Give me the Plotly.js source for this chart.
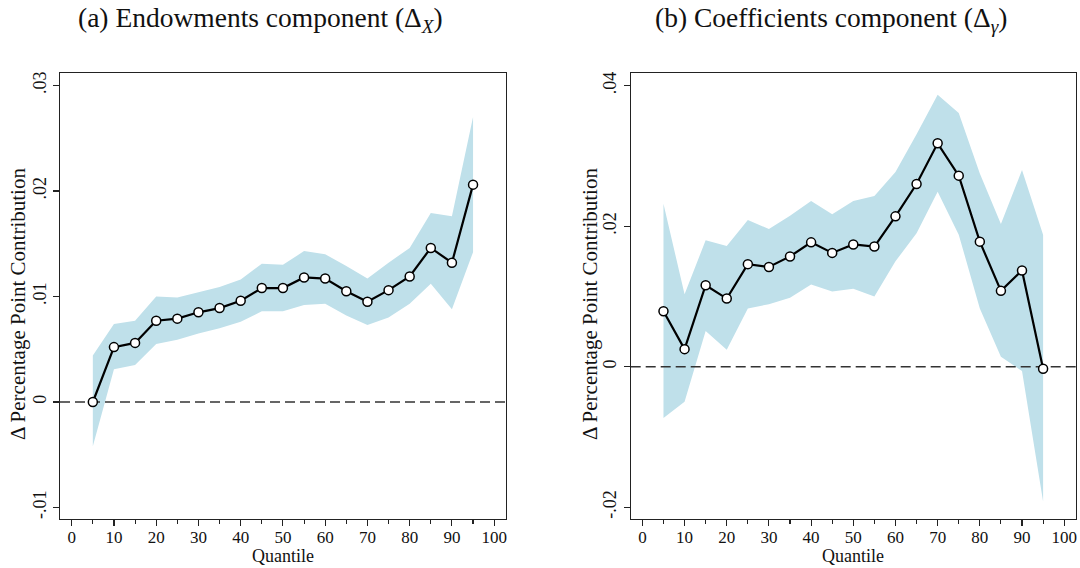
<!DOCTYPE html>
<html>
<head>
<meta charset="utf-8">
<script src="https://cdn.plot.ly/plotly-3.0.1.min.js"></script>
<style>
  html, body { margin: 0; padding: 0; background: #fff; }
  #chart { width: 1080px; height: 568px; }
</style>
</head>
<body>
<div id="chart"></div>
<script>
// Quantiles at which the decomposition is evaluated
const quantiles = [5, 10, 15, 20, 25, 30, 35, 40, 45, 50, 55, 60, 65, 70, 75, 80, 85, 90, 95];

// (a) Endowments component: point estimate and 95% band
const endowEst = [0.0000, 0.0052, 0.0056, 0.0077, 0.0079, 0.0085, 0.0089, 0.0096, 0.0108, 0.0108,
                  0.0118, 0.0117, 0.0105, 0.0095, 0.0106, 0.0119, 0.0146, 0.0132, 0.0206];
const endowHi  = [0.0044, 0.0074, 0.0077, 0.0100, 0.0099, 0.0104, 0.0109, 0.0116, 0.0131, 0.0130,
                  0.0143, 0.0140, 0.0129, 0.0117, 0.0132, 0.0146, 0.0179, 0.0176, 0.0270];
const endowLo  = [-0.0042, 0.0031, 0.0035, 0.0055, 0.0059, 0.0065, 0.0070, 0.0076, 0.0086, 0.0086,
                  0.0092, 0.0093, 0.0082, 0.0073, 0.0080, 0.0093, 0.0112, 0.0088, 0.0142];

// (b) Coefficients component: point estimate and 95% band
const coefEst = [0.0079, 0.0025, 0.0116, 0.0097, 0.0146, 0.0142, 0.0157, 0.0177, 0.0162, 0.0174,
                 0.0171, 0.0214, 0.0260, 0.0318, 0.0272, 0.0178, 0.0108, 0.0137, -0.0003];
const coefHi  = [0.0232, 0.0103, 0.0180, 0.0172, 0.0209, 0.0196, 0.0215, 0.0236, 0.0217, 0.0236,
                 0.0243, 0.0277, 0.0331, 0.0387, 0.0361, 0.0275, 0.0203, 0.0280, 0.0188];
const coefLo  = [-0.0073, -0.0050, 0.0051, 0.0024, 0.0083, 0.0089, 0.0098, 0.0117, 0.0107, 0.0111,
                 0.0100, 0.0150, 0.0190, 0.0249, 0.0188, 0.0083, 0.0014, -0.0006, -0.0192];

// Axis ticks and labels
const xTicks = [0, 10, 20, 30, 40, 50, 60, 70, 80, 90, 100];
const yTicksA = [-0.01, 0, 0.01, 0.02, 0.03];
const yLabelsA = ['-.01', '0', '.01', '.02', '.03'];
const yTicksB = [-0.02, 0, 0.02, 0.04];
const yLabelsB = ['-.02', '0', '.02', '.04'];

const panelTitles = ['(a) Endowments component (\u0394<sub><i>X</i></sub>)',
                     '(b) Coefficients component (\u0394<sub><i>\u03b3</i></sub>)'];
const yTitle = '\u0394 Percentage Point Contribution';
const xTitle = 'Quantile';

// Axis ranges
const X_RANGE = [-2.77, 102.8];
const Y_RANGE_A = [-0.01109, 0.03118];
const Y_RANGE_B = [-0.02168, 0.04181];

const FONT = 'Liberation Serif, Times New Roman, serif';
const BAND = '#bfe0ea';

function panel(est, lo, hi, xa, ya) {
  return [
    { x: quantiles, y: lo, xaxis: xa, yaxis: ya, type: 'scatter', mode: 'lines',
      line: { width: 0, color: BAND }, hoverinfo: 'skip', showlegend: false },
    { x: quantiles, y: hi, xaxis: xa, yaxis: ya, type: 'scatter', mode: 'lines',
      fill: 'tonexty', fillcolor: BAND, line: { width: 0, color: BAND },
      hoverinfo: 'skip', showlegend: false },
    // reference line at zero
    { x: X_RANGE, y: [0, 0], xaxis: xa, yaxis: ya, type: 'scatter', mode: 'lines',
      line: { color: '#333', width: 1.5, dash: '10px,5px' }, hoverinfo: 'skip', showlegend: false },
    { x: quantiles, y: est, xaxis: xa, yaxis: ya, type: 'scatter', mode: 'lines+markers',
      line: { color: '#000', width: 2.2 },
      marker: { size: 9, color: '#fff', line: { color: '#000', width: 1.5 } },
      showlegend: false }
  ];
}

const data = [].concat(
  panel(endowEst, endowLo, endowHi, 'x', 'y'),
  panel(coefEst, coefLo, coefHi, 'x2', 'y2')
);

const W = 1080, H = 568;
const plotTop = 73, plotBottom = 519;
const yDomain = [1 - plotBottom / H, 1 - plotTop / H];
const domA = [60 / W, 506 / W];
const domB = [630.7 / W, 1076 / W];

function xAxis(domain, anchor) {
  return {
    anchor: anchor, domain: domain, range: X_RANGE, showgrid: false, zeroline: false,
    showline: true, linecolor: '#222', linewidth: 1.2, mirror: true,
    ticks: 'outside', ticklen: 6, tickwidth: 1.1, tickcolor: '#222',
    tickvals: xTicks, ticktext: xTicks.map(String), ticklabelstandoff: -4,
    tickfont: { family: FONT, size: 17, color: '#111' },
    minor: { tickvals: quantiles.filter(q => q % 10 !== 0), ticks: 'outside', ticklen: 4, tickwidth: 1.1, tickcolor: '#222' }
  };
}
function yAxis(anchor, range, vals, labels) {
  return {
    anchor: anchor, domain: yDomain, range: range, showgrid: false, zeroline: false,
    showline: true, linecolor: '#222', linewidth: 1.2, mirror: true,
    ticks: 'outside', ticklen: 6, tickwidth: 1.1, tickcolor: '#222',
    tickvals: vals, ticktext: labels, tickangle: -90,
    tickfont: { family: FONT, size: 18, color: '#111' }
  };
}

function label(text, x, y, size, angle, yanchor) {
  return { text: text, xref: 'paper', yref: 'paper', x: x, y: y, textangle: angle || 0,
           xanchor: 'center', yanchor: yanchor || 'middle', showarrow: false, borderpad: 0,
           font: { family: FONT, size: size, color: '#111' } };
}

const layout = {
  width: W, height: H,
  margin: { l: 0, r: 0, t: 0, b: 0 },
  paper_bgcolor: '#fff', plot_bgcolor: '#fff',
  font: { family: FONT, color: '#111' },
  xaxis: xAxis(domA, 'y'),
  yaxis: yAxis('x', Y_RANGE_A, yTicksA, yLabelsA),
  xaxis2: xAxis(domB, 'y2'),
  yaxis2: yAxis('x2', Y_RANGE_B, yTicksB, yLabelsB),
  annotations: [
    label(panelTitles[0], 260 / W, 1 - 20 / H, 27.5),
    label(panelTitles[1], 831 / W, 1 - 20 / H, 27.5),
    label(yTitle, 18 / W, 1 - 304 / H, 21, -90),
    label(yTitle, 590 / W, 1 - 304 / H, 21, -90),
    label(xTitle, (domA[0] + domA[1]) / 2, 1 / H, 18, 0, 'bottom'),
    label(xTitle, (domB[0] + domB[1]) / 2, 1 / H, 18, 0, 'bottom')
  ]
};

Plotly.newPlot('chart', data, layout, { displayModeBar: false, staticPlot: true });
</script>
</body>
</html>
